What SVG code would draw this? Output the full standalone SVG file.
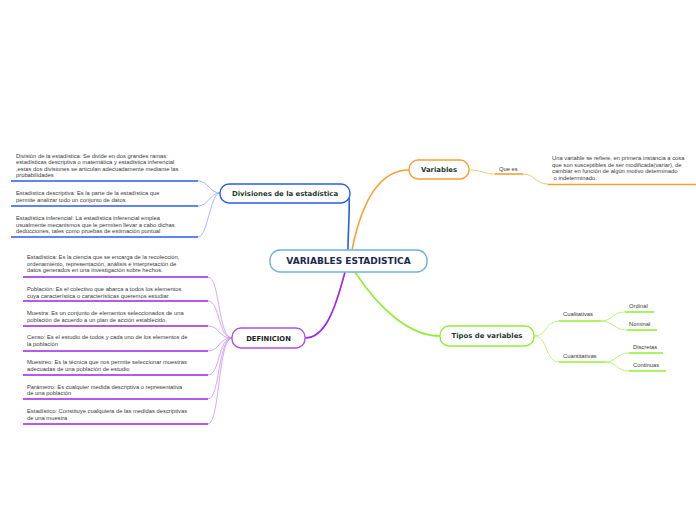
<svg xmlns="http://www.w3.org/2000/svg" width="696" height="520" viewBox="0 0 696 520">
<style>
.t{font-family:"Liberation Sans",Arial,sans-serif;font-size:5.8px;fill:#3a3a3a}
.nl{font-family:"DejaVu Sans",Verdana,sans-serif;font-weight:bold;text-anchor:middle;dominant-baseline:central}
.c{fill:none}
.box{fill:#ffffff;stroke-width:1.4}
</style>
<rect width="696" height="520" fill="#ffffff"/>
<g id="connectors" class="c">
  <path d="M348,250 C348,230 350,212 349,193" stroke="#2a5cf0" stroke-width="1.6"/>
  <path d="M352,250 C362,200 380,170 409,170" stroke="#f8a030" stroke-width="1.6"/>
  <path d="M355,272 C380,310 410,336 440,336" stroke="#90f030" stroke-width="1.6"/>
  <path d="M345,272 C335,310 325,338 305,338" stroke="#a020f0" stroke-width="1.6"/>
  <g stroke="#90a8f0" stroke-width="0.8">
    <path d="M220,193 C210,193 208,181 198,181"/>
    <path d="M220,193 C210,193 208,206 198,206"/>
    <path d="M220,193 C210,193 208,237 198,237"/>
  </g>
  <g stroke="#c890f8" stroke-width="0.8">
    <path d="M232,338 C218,338 220,277 208,277"/>
    <path d="M232,338 C218,338 220,301 208,301"/>
    <path d="M232,338 C218,338 220,326 208,326"/>
    <path d="M232,338 C218,338 220,351 208,351"/>
    <path d="M232,338 C218,338 220,375 208,375"/>
    <path d="M232,338 C218,338 220,399 208,399"/>
    <path d="M232,338 C218,338 220,424 208,424"/>
  </g>
  <g stroke="#f8b850" stroke-width="0.8">
    <path d="M469,170 C482,170 484,174 495,174"/>
    <path d="M523,174 C535,174 535,184 548,184"/>
  </g>
  <g stroke="#a8f060" stroke-width="0.8">
    <path d="M534,336 C548,336 545,321 559,321"/>
    <path d="M534,336 C548,336 545,362 559,362"/>
    <path d="M601,321 C613,321 612,312 625,312"/>
    <path d="M601,321 C613,321 614,330 627,330"/>
    <path d="M605,362 C617,362 616,353 629,353"/>
    <path d="M605,362 C617,362 616,371 629,371"/>
  </g>
</g>
<g id="central">
  <rect class="box" x="270" y="250" width="157" height="22" rx="10" stroke="#70b0e0"/>
  <text class="nl" x="348.5" y="261" font-size="9" fill="#1b2a4e">VARIABLES ESTADISTICA</text>
</g>
<g id="divisiones">
  <rect class="box" x="220" y="184" width="130" height="19" rx="9" stroke="#2a5cf0"/>
  <text class="nl" x="285" y="193.5" font-size="6.9" fill="#1d3b2e">Divisiones de la estadística</text>
</g>
<g id="div-division">
  <text class="t" x="16" y="158"><tspan x="16">División de la estadística: Se divide en dos grandes ramas:</tspan><tspan x="16" dy="6.3">estadísticas  descriptiva o matemática y estadística inferencial</tspan><tspan x="16" dy="6.3">,estas dos divisiones se articulan adecuadamente mediante las</tspan><tspan x="16" dy="6.3">probabilidades</tspan></text>
  <line x1="11" y1="181" x2="198" y2="181" stroke="#2a5cf0" stroke-width="1.6"/>
</g>
<g id="div-descriptiva">
  <text class="t" x="16" y="195"><tspan x="16">Estadística descriptiva: Es la parte de la estadística que</tspan><tspan x="16" dy="6.8">permite analizar todo un conjunto de datos</tspan></text>
  <line x1="11" y1="206" x2="198" y2="206" stroke="#2a5cf0" stroke-width="1.6"/>
</g>
<g id="div-inferencial">
  <text class="t" x="16" y="220"><tspan x="16">Estadística inferencial: La estadística inferencial  emplea</tspan><tspan x="16" dy="6.6">usualmente mecanismos que le permiten llevar a cabo dichas</tspan><tspan x="16" dy="6.6">deducciones, tales como pruebas de estimación puntual</tspan></text>
  <line x1="11" y1="237" x2="198" y2="237" stroke="#2a5cf0" stroke-width="1.6"/>
</g>
<g id="definicion">
  <rect class="box" x="232" y="328" width="73" height="20" rx="9" stroke="#b050f0"/>
  <text class="nl" x="268.5" y="338.5" font-size="6.8" fill="#222222">DEFINICION</text>
</g>
<g id="def-estadistica">
  <text class="t" x="27" y="259"><tspan x="27">Estadística: Es la ciencia que se encarga de la recolección,</tspan><tspan x="27" dy="6.7">ordenamiento, representación, análisis e interpretación  de</tspan><tspan x="27" dy="6.7">datos generados en una investigación sobre hechos.</tspan></text>
  <line x1="23" y1="277" x2="208" y2="277" stroke="#a020e8" stroke-width="1.6"/>
</g>
<g id="def-poblacion">
  <text class="t" x="27" y="291"><tspan x="27">Población: Es el colectivo que abarca a todos los elementos</tspan><tspan x="27" dy="6.5">cuya característica o características queremos estudiar.</tspan></text>
  <line x1="23" y1="301" x2="208" y2="301" stroke="#a020e8" stroke-width="1.6"/>
</g>
<g id="def-muestra">
  <text class="t" x="27" y="315"><tspan x="27">Muestra: Es un conjunto de elementos seleccionados de una</tspan><tspan x="27" dy="6.5">población de acuerdo a un plan de acción establecido.</tspan></text>
  <line x1="23" y1="326" x2="208" y2="326" stroke="#a020e8" stroke-width="1.6"/>
</g>
<g id="def-censo">
  <text class="t" x="27" y="339"><tspan x="27">Censo: Es el estudio de todos y cada uno de los elementos de</tspan><tspan x="27" dy="6.7">la población</tspan></text>
  <line x1="23" y1="351" x2="208" y2="351" stroke="#a020e8" stroke-width="1.6"/>
</g>
<g id="def-muestreo">
  <text class="t" x="27" y="364"><tspan x="27">Muestreo: Es la técnica que nos permite seleccionar muestras</tspan><tspan x="27" dy="6.7">adecuadas de una población de estudio</tspan></text>
  <line x1="23" y1="375" x2="208" y2="375" stroke="#a020e8" stroke-width="1.6"/>
</g>
<g id="def-parametro">
  <text class="t" x="27" y="389"><tspan x="27">Parámetro: Es cualquier medida descriptiva o representativa</tspan><tspan x="27" dy="6.3">de una población</tspan></text>
  <line x1="23" y1="399" x2="208" y2="399" stroke="#a020e8" stroke-width="1.6"/>
</g>
<g id="def-estadistico">
  <text class="t" x="27" y="413"><tspan x="27">Estadístico: Constituye cualquiera de las medidas descriptivas</tspan><tspan x="27" dy="6.8">de una muestra</tspan></text>
  <line x1="23" y1="424" x2="208" y2="424" stroke="#a020e8" stroke-width="1.6"/>
</g>
<g id="variables">
  <rect class="box" x="409" y="160" width="60" height="19" rx="9" stroke="#f8a030"/>
  <text class="nl" x="439" y="169.5" font-size="6.9" fill="#1d3b2e">Variables</text>
</g>
<g id="que-es">
  <text class="t" x="499" y="170.5">Que es</text>
  <line x1="495" y1="174" x2="523" y2="174" stroke="#f8a030" stroke-width="1.6"/>
</g>
<g id="definicion-variable">
  <text class="t" x="552" y="160"><tspan x="552">Una variable se refiere,  en primera instancia a cosa</tspan><tspan x="552" dy="6.6">que son susceptibles de ser modificada(variar), de</tspan><tspan x="552" dy="6.6">cambiar en función de algún motivo determinado</tspan><tspan x="552" dy="6.6"> o indeterminado.</tspan></text>
  <line x1="548" y1="184.5" x2="696" y2="184.5" stroke="#f8a030" stroke-width="1.6"/>
</g>
<g id="tipos">
  <rect class="box" x="440" y="326" width="94" height="20" rx="9" stroke="#90f030"/>
  <text class="nl" x="487" y="336" font-size="6.9" fill="#1d3b2e">Tipos de variables</text>
</g>
<g id="cualitativas">
  <text class="t" x="563" y="316">Cualitativas</text>
  <line x1="559" y1="321" x2="601" y2="321" stroke="#90f030" stroke-width="1.6"/>
</g>
<g id="ordinal">
  <text class="t" x="629" y="308">Ordinal</text>
  <line x1="625" y1="312" x2="654" y2="312" stroke="#90f030" stroke-width="1.6"/>
</g>
<g id="nominal">
  <text class="t" x="629" y="326">Nominal</text>
  <line x1="627" y1="330" x2="657" y2="330" stroke="#90f030" stroke-width="1.6"/>
</g>
<g id="cuantitativas">
  <text class="t" x="563" y="358">Cuantitativas</text>
  <line x1="559" y1="362" x2="605" y2="362" stroke="#90f030" stroke-width="1.6"/>
</g>
<g id="discretas">
  <text class="t" x="633" y="349">Discretas</text>
  <line x1="629" y1="353" x2="663" y2="353" stroke="#90f030" stroke-width="1.6"/>
</g>
<g id="continuas">
  <text class="t" x="633" y="367">Continuas</text>
  <line x1="629" y1="371" x2="666" y2="371" stroke="#90f030" stroke-width="1.6"/>
</g>
</svg>
